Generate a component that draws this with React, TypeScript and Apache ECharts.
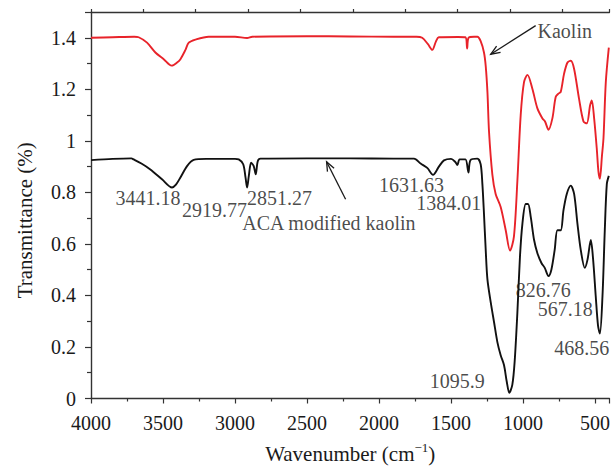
import React, { useEffect, useRef } from "react";
import * as echarts from "echarts";

// Kaolin (red) spectrum
const kaolinWave = [4000, 3850, 3700, 3669, 3611, 3553, 3495, 3440, 3400, 3379, 3345, 3321, 3275, 3183, 3000, 2916, 2880, 2500, 2200, 1900, 1740, 1700, 1660, 1630, 1605, 1585, 1450, 1400, 1388, 1378, 1340, 1317, 1294, 1271, 1259, 1247, 1236, 1213, 1190, 1155, 1120, 1090, 1063, 1039, 1016, 993, 969, 935, 900, 865, 847, 823, 796, 773, 754, 738, 715, 691, 668, 645, 611, 580, 557, 534, 522, 506, 488, 476, 466, 452, 441, 425, 404];
const kaolinT = [1.400, 1.402, 1.404, 1.402, 1.381, 1.343, 1.317, 1.292, 1.305, 1.317, 1.352, 1.381, 1.393, 1.404, 1.404, 1.399, 1.404, 1.406, 1.405, 1.404, 1.404, 1.400, 1.375, 1.353, 1.385, 1.402, 1.403, 1.402, 1.358, 1.400, 1.404, 1.404, 1.387, 1.343, 1.291, 1.190, 1.036, 0.870, 0.794, 0.743, 0.653, 0.574, 0.628, 0.845, 1.100, 1.228, 1.256, 1.202, 1.126, 1.087, 1.075, 1.043, 1.087, 1.170, 1.183, 1.190, 1.260, 1.304, 1.311, 1.279, 1.164, 1.075, 1.068, 1.138, 1.157, 1.087, 0.972, 0.880, 0.853, 0.940, 1.011, 1.228, 1.362];

// ACA modified kaolin (black) spectrum
const acaWave = [4000, 3850, 3720, 3704, 3650, 3588, 3507, 3437, 3410, 3379, 3333, 3287, 3200, 3000, 2974, 2943, 2927, 2916, 2904, 2888, 2870, 2856, 2842, 2823, 2500, 2200, 1900, 1757, 1711, 1665, 1625, 1584, 1549, 1500, 1470, 1456, 1440, 1400, 1379, 1365, 1317, 1294, 1282, 1271, 1259, 1247, 1224, 1201, 1178, 1155, 1132, 1113, 1095, 1074, 1058, 1039, 1021, 1004, 981, 965, 946, 923, 900, 872, 849, 823, 803, 780, 761, 738, 719, 696, 668, 645, 622, 599, 571, 552, 529, 513, 495, 479, 466, 448, 432, 418, 404];
const acaT = [0.925, 0.930, 0.932, 0.928, 0.912, 0.889, 0.851, 0.819, 0.830, 0.858, 0.902, 0.926, 0.930, 0.930, 0.928, 0.909, 0.858, 0.819, 0.864, 0.915, 0.902, 0.870, 0.921, 0.931, 0.932, 0.932, 0.931, 0.931, 0.912, 0.895, 0.868, 0.900, 0.924, 0.930, 0.918, 0.906, 0.928, 0.928, 0.877, 0.925, 0.931, 0.909, 0.832, 0.717, 0.577, 0.462, 0.373, 0.296, 0.219, 0.168, 0.130, 0.066, 0.022, 0.054, 0.143, 0.334, 0.551, 0.679, 0.755, 0.755, 0.704, 0.615, 0.564, 0.526, 0.507, 0.475, 0.500, 0.577, 0.653, 0.653, 0.730, 0.794, 0.826, 0.794, 0.679, 0.577, 0.507, 0.539, 0.615, 0.539, 0.398, 0.283, 0.252, 0.398, 0.653, 0.832, 0.864];

// Annotations (text placed at wavenumber / transmittance positions)
const noteText = ["Kaolin", "3441.18", "2919.77", "2851.27", "ACA modified kaolin", "1631.63", "1384.01", "1095.9", "826.76", "567.18", "468.56"];
const noteWave = [710, 3605, 3143, 2691, 2348, 1774, 1516, 1456, 860, 707, 592];
const noteT = [1.426, 0.777, 0.733, 0.777, 0.680, 0.828, 0.760, 0.066, 0.421, 0.348, 0.195];

// Arrows: [tailWave, tailT, headWave, headT]
const arrowKaolin = [912, 1.447, 1224, 1.336];
const arrowAca = [2232, 0.773, 2364, 0.919];

const FONT = "'Liberation Serif', 'DejaVu Serif', serif";
const AXIS = "#333";
const INK = "#1a1a1a";

export default function App() {
  const ref = useRef<HTMLDivElement>(null);

  useEffect(() => {
    if (!ref.current) return;
    const chart = echarts.init(ref.current, null, { renderer: "svg" });
    const axisLine = { show: true, lineStyle: { color: AXIS, width: 1.4 } };
    chart.setOption({
      animation: false,
      backgroundColor: "#fff",
      grid: { left: 91, right: 3, top: 12, bottom: 65 },
      xAxis: [
        {
          type: "value",
          position: "bottom",
          min: -4000,
          max: -400,
          interval: 500,
          axisLine,
          axisTick: { show: true, length: 5, lineStyle: { color: AXIS, width: 1.2 } },
          minorTick: { show: true, splitNumber: 2, length: 3, lineStyle: { color: AXIS, width: 1.2 } },
          splitLine: { show: false },
          minorSplitLine: { show: false },
          axisLabel: {
            formatter: (v: number) => String(-v),
            showMaxLabel: false,
            margin: 14,
            fontSize: 20,
            color: INK,
            fontFamily: FONT,
          },
          name: "{t|Wavenumber (cm}{s|−1}{t|)}",
          nameLocation: "middle",
          nameGap: 42,
          nameTextStyle: {
            rich: {
              t: { fontSize: 21, fontFamily: FONT, color: INK, lineHeight: 26 },
              s: { fontSize: 13, fontFamily: FONT, color: INK, lineHeight: 26, verticalAlign: "top" },
            },
          },
        },
        {
          type: "value",
          position: "top",
          min: 0,
          max: 3600,
          interval: 363.6,
          axisLine,
          axisTick: { show: true, length: 3, lineStyle: { color: AXIS, width: 1.2 } },
          axisLabel: { show: false },
          splitLine: { show: false },
        },
      ],
      yAxis: {
        type: "value",
        min: 0,
        max: 1.5,
        interval: 0.2,
        axisLine,
        axisTick: { show: true, length: 6, lineStyle: { color: AXIS, width: 1.2 } },
        minorTick: { show: true, splitNumber: 2, length: 4, lineStyle: { color: AXIS, width: 1.2 } },
        splitLine: { show: false },
        minorSplitLine: { show: false },
        axisLabel: {
          showMaxLabel: false,
          margin: 15,
          fontSize: 20,
          color: INK,
          fontFamily: FONT,
        },
        name: "Transmittance (%)",
        nameLocation: "middle",
        nameGap: 56,
        nameTextStyle: { fontSize: 21, fontFamily: FONT, color: INK, padding: [0, 30, 0, 0] },
      },
      series: [
        {
          type: "line",
          name: "Kaolin",
          data: kaolinWave.map((w, i) => [-w, kaolinT[i]]),
          symbol: "none",
          smooth: 0.3,
          lineStyle: { color: "#e8232a", width: 1.9 },
          z: 3,
        },
        {
          type: "line",
          name: "ACA modified kaolin",
          data: acaWave.map((w, i) => [-w, acaT[i]]),
          symbol: "none",
          smooth: 0.3,
          lineStyle: { color: "#111", width: 1.9 },
          z: 4,
        },
        {
          type: "scatter",
          silent: true,
          symbolSize: 1,
          itemStyle: { color: "rgba(0,0,0,0)" },
          label: {
            show: true,
            position: "inside",
            formatter: "{b}",
            fontSize: 20,
            lineHeight: 16,
            fontFamily: FONT,
            color: INK,
          },
          data: noteText.map((t, i) => ({ name: t, value: [-noteWave[i], noteT[i]] })),
          z: 10,
        },
      ],
    });

    const toPx = (w: number, t: number) =>
      chart.convertToPixel({ seriesIndex: 0 }, [-w, t]) as number[];
    const arrow = (a: number[]) => {
      const p0 = toPx(a[0], a[1]);
      const p1 = toPx(a[2], a[3]);
      const dx = p1[0] - p0[0];
      const dy = p1[1] - p0[1];
      const len = Math.hypot(dx, dy);
      const ux = dx / len;
      const uy = dy / len;
      const L = 10;
      const ang = 0.38;
      const c = Math.cos(ang);
      const s = Math.sin(ang);
      const left = [p1[0] - L * (ux * c - uy * s), p1[1] - L * (uy * c + ux * s)];
      const right = [p1[0] - L * (ux * c + uy * s), p1[1] - L * (uy * c - ux * s)];
      const style = { stroke: INK, lineWidth: 1.3, fill: "none" };
      return [
        { type: "line", shape: { x1: p0[0], y1: p0[1], x2: p1[0], y2: p1[1] }, style },
        { type: "polyline", shape: { points: [left, p1, right] }, style },
      ];
    };
    chart.setOption({
      graphic: [...arrow(arrowKaolin), ...arrow(arrowAca)].map((g) => ({ ...g, silent: true, z: 20 })),
    });

    return () => chart.dispose();
  }, []);

  return (
    <div
      ref={ref}
      style={{ position: "absolute", left: 0, top: 0, width: 613, height: 469 }}
    />
  );
}
